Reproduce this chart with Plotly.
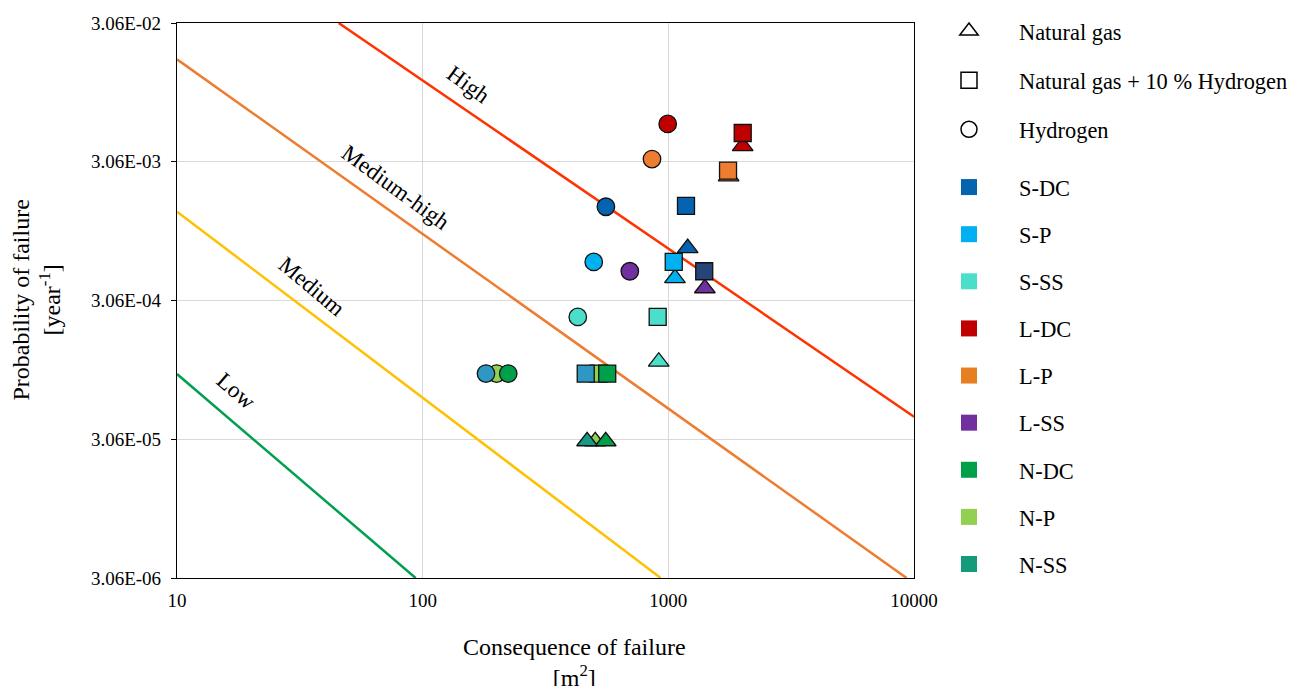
import numpy as np
import plotly.graph_objects as go

# ---------------- data ----------------
categories = ["S-DC", "S-P", "S-SS", "L-DC", "L-P", "L-SS", "N-DC", "N-P", "N-SS"]
category_colors = ["#0563AF", "#00B0F0", "#4BDFC9", "#C00000", "#E67E22",
                   "#7030A0", "#00A04A", "#92D050", "#139B7C"]

fuels = ["Natural gas", "Natural gas + 10 % Hydrogen", "Hydrogen"]
fuel_symbols = ["triangle-up", "square", "circle"]

# Natural gas (triangles)
ng_x = [1199, 1064, 914, 2008, 1760, 1408, 556, 504, 467]
ng_y = [7.31e-4, 4.44e-4, 1.108e-4, 3.97e-3, 2.40e-3, 3.75e-4, 2.96e-5, 2.96e-5, 2.96e-5]
ng_colors = ["#0563AF", "#00B0F0", "#4BDFC9", "#C00000", "#ED7D31",
             "#7030A0", "#00A04A", "#92D050", "#139B88"]

# Natural gas + 10 % hydrogen (squares)
mix_x = [1180, 1052, 905, 2008, 1750, 1400, 564, 519, 461]
mix_y = [1.47e-3, 5.8e-4, 2.33e-4, 4.93e-3, 2.64e-3, 4.97e-4, 9.1e-5, 9.1e-5, 9.1e-5]
mix_colors = ["#0563AF", "#00B0F0", "#4BDFC9", "#C00000", "#ED7D31",
              "#264478", "#00A04A", "#92D050", "#2E97C4"]

# Hydrogen (circles)
h2_x = [557, 497, 428, 994, 858, 697, 223, 200, 181]
h2_y = [1.45e-3, 5.8e-4, 2.33e-4, 5.73e-3, 3.2e-3, 4.97e-4, 9.1e-5, 9.1e-5, 9.1e-5]
h2_colors = ["#0563AF", "#00B0F0", "#4BDFC9", "#C00000", "#ED7D31",
             "#7030A0", "#00A04A", "#92D050", "#2E97C4"]

# Risk boundary lines (end points)
risk_names = ["High", "Medium-high", "Medium", "Low"]
risk_colors = ["#FF3300", "#ED7D31", "#FFC000", "#00A050"]
risk_x = [[45.5, 10000], [10, 9330], [10, 931], [10, 93.6]]
risk_y = [[3.06e-2, 4.45e-5], [1.674e-2, 3.06e-6], [1.336e-3, 3.06e-6], [9.03e-5, 3.06e-6]]

# Risk label positions
label_x = [153, 77.5, 35.4, 17.5]
label_y = [1.094e-2, 1.98e-3, 3.89e-4, 6.81e-5]
label_angle = [36, 36, 40, 41]

x_tickvals = [10, 100, 1000, 10000]
x_ticktext = ["10", "100", "1000", "10000"]
y_tickvals = [3.06e-6, 3.06e-5, 3.06e-4, 3.06e-3, 3.06e-2]
y_ticktext = ["3.06E-06", "3.06E-05", "3.06E-04", "3.06E-03", "3.06E-02"]

FONT = "Liberation Serif, Times New Roman, serif"

fig = go.Figure()

for name, col, xs, ys in zip(risk_names, risk_colors, risk_x, risk_y):
    fig.add_trace(go.Scatter(x=xs, y=ys, mode="lines", line=dict(color=col, width=2.5),
                             showlegend=False, hoverinfo="skip"))

draw_order = [7, 0, 1, 2, 3, 4, 5, 6, 8]
for xs, ys, cols, sym, size in [(ng_x, ng_y, ng_colors, "triangle-up", 18),
                                (mix_x, mix_y, mix_colors, "square", 17),
                                (h2_x, h2_y, h2_colors, "circle", 17.5)]:
    fig.add_trace(go.Scatter(
        x=[xs[i] for i in draw_order], y=[ys[i] for i in draw_order], mode="markers",
        marker=dict(symbol=sym, size=size, color=[cols[i] for i in draw_order],
                    line=dict(color="#111111", width=1.3)),
        text=[categories[i] for i in draw_order], showlegend=False))

# Legend 1: fuel symbols
for i, (f, s) in enumerate(zip(fuels, fuel_symbols)):
    fig.add_trace(go.Scatter(x=[None], y=[None], mode="markers", name=f,
                             marker=dict(symbol=s + "-open", size=16, color="black",
                                         line=dict(width=1.5)),
                             legend="legend", legendgroup="f%d" % i))
# Legend 2: category colours
for i, (c, col) in enumerate(zip(categories, category_colors)):
    fig.add_trace(go.Scatter(x=[None], y=[None], mode="markers", name=c,
                             marker=dict(symbol="square", size=16, color=col, line=dict(width=0)),
                             legend="legend2", legendgroup="c%d" % i))

annotations = []
for t, x, y, a in zip(risk_names, label_x, label_y, label_angle):
    annotations.append(dict(text=t, x=np.log10(x), y=np.log10(y), xref="x", yref="y",
                            showarrow=False, textangle=a, font=dict(size=23, color="black")))
annotations.append(dict(text="Consequence of failure<br>[m<sup>2</sup>]", x=(574 - 177) / 737,
                        y=-(662 - 578) / 555, xref="paper", yref="paper", showarrow=False,
                        xanchor="center", yanchor="middle", font=dict(size=24, color="black")))
annotations.append(dict(text="Probability of failure<br>[year<sup>-1</sup>]", x=-(177 - 36) / 737,
                        y=0.5, xref="paper", yref="paper", showarrow=False, textangle=-90,
                        xanchor="center", yanchor="middle", font=dict(size=24, color="black")))

leg_common = dict(xref="container", yref="container", xanchor="left", yanchor="top",
                  font=dict(size=22.4, color="black", family=FONT), bgcolor="rgba(0,0,0,0)",
                  traceorder="grouped", itemwidth=90, itemsizing="trace", maxheight=680)

fig.update_layout(
    width=1289, height=686,
    margin=dict(l=177, r=375, t=23, b=108, autoexpand=False),
    paper_bgcolor="white", plot_bgcolor="white",
    font=dict(family=FONT, color="black", size=19),
    xaxis=dict(type="log", range=[1, 4], tickvals=x_tickvals, ticktext=x_ticktext,
               showgrid=True, gridcolor="#D9D9D9", gridwidth=1, showline=True,
               linecolor="black", linewidth=1.2, mirror=True, ticks="", zeroline=False,
               tickfont=dict(size=19), ticklabelstandoff=5),
    yaxis=dict(type="log", range=[np.log10(3.06e-6), np.log10(3.06e-2)], tickvals=y_tickvals,
               ticktext=y_ticktext, showgrid=True, gridcolor="#D9D9D9", gridwidth=1,
               showline=True, linecolor="black", linewidth=1.2, mirror=True, ticks="outside",
               ticklen=5, tickcolor="black", zeroline=False, tickfont=dict(size=19),
               ticklabelstandoff=6),
    legend=dict(x=919 / 1289, y=1 - 10 / 686, tracegroupgap=17, **leg_common),
    legend2=dict(x=919 / 1289, y=1 - 166 / 686, tracegroupgap=15, **leg_common),
    annotations=annotations,
)

fig.write_html("out.html")
